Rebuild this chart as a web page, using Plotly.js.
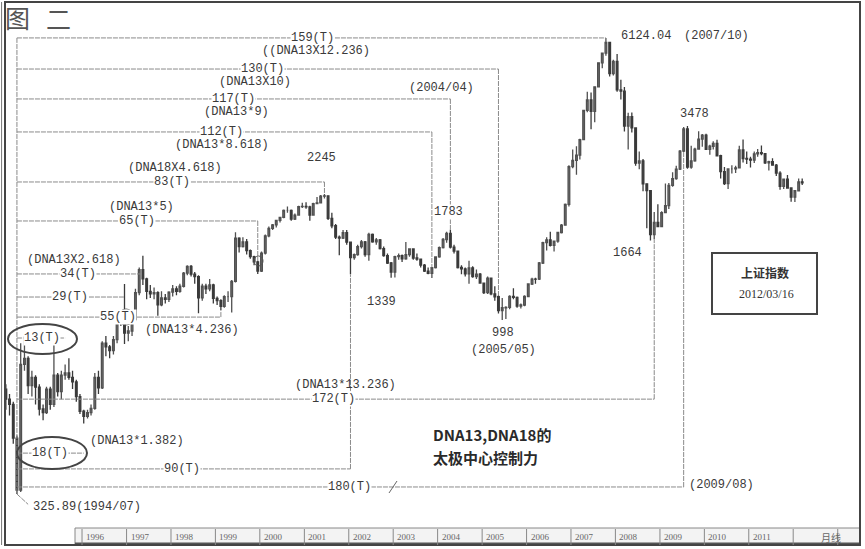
<!DOCTYPE html>
<html><head><meta charset="utf-8">
<script src="https://cdn.plot.ly/plotly-3.0.1.min.js"></script>
<style>html,body{margin:0;padding:0;background:#fff}#chart{width:865px;height:549px}</style>
</head><body><div id="chart"></div>
<script>
// ---- monthly bars of the Shanghai Composite ----
const months = [
 '1994-04','1994-05','1994-06','1994-07','1994-08','1994-09','1994-10','1994-11','1994-12',
 '1995-01','1995-02','1995-03','1995-04','1995-05','1995-06','1995-07','1995-08','1995-09','1995-10','1995-11','1995-12',
 '1996-01','1996-02','1996-03','1996-04','1996-05','1996-06','1996-07','1996-08','1996-09','1996-10','1996-11','1996-12',
 '1997-01','1997-02','1997-03','1997-04','1997-05','1997-06','1997-07','1997-08','1997-09','1997-10','1997-11','1997-12',
 '1998-01','1998-02','1998-03','1998-04','1998-05','1998-06','1998-07','1998-08','1998-09','1998-10','1998-11','1998-12',
 '1999-01','1999-02','1999-03','1999-04','1999-05','1999-06','1999-07','1999-08','1999-09','1999-10','1999-11','1999-12',
 '2000-01','2000-02','2000-03','2000-04','2000-05','2000-06','2000-07','2000-08','2000-09','2000-10','2000-11','2000-12',
 '2001-01','2001-02','2001-03','2001-04','2001-05','2001-06','2001-07','2001-08','2001-09','2001-10','2001-11','2001-12',
 '2002-01','2002-02','2002-03','2002-04','2002-05','2002-06','2002-07','2002-08','2002-09','2002-10','2002-11','2002-12',
 '2003-01','2003-02','2003-03','2003-04','2003-05','2003-06','2003-07','2003-08','2003-09','2003-10','2003-11','2003-12',
 '2004-01','2004-02','2004-03','2004-04','2004-05','2004-06','2004-07','2004-08','2004-09','2004-10','2004-11','2004-12',
 '2005-01','2005-02','2005-03','2005-04','2005-05','2005-06','2005-07','2005-08','2005-09','2005-10','2005-11','2005-12',
 '2006-01','2006-02','2006-03','2006-04','2006-05','2006-06','2006-07','2006-08','2006-09','2006-10','2006-11','2006-12',
 '2007-01','2007-02','2007-03','2007-04','2007-05','2007-06','2007-07','2007-08','2007-09','2007-10','2007-11','2007-12',
 '2008-01','2008-02','2008-03','2008-04','2008-05','2008-06','2008-07','2008-08','2008-09','2008-10','2008-11','2008-12',
 '2009-01','2009-02','2009-03','2009-04','2009-05','2009-06','2009-07','2009-08','2009-09','2009-10','2009-11','2009-12',
 '2010-01','2010-02','2010-03','2010-04','2010-05','2010-06','2010-07','2010-08','2010-09','2010-10','2010-11','2010-12',
 '2011-01','2011-02','2011-03','2011-04','2011-05','2011-06','2011-07','2011-08','2011-09','2011-10','2011-11','2011-12',
 '2012-01','2012-02','2012-03'
];
const open = [
 640,600,580,467,334,750,780,655,690,
 648,563,550,640,580,700,630,700,710,690,670,610,
 555,537,550,565,690,645,860,840,820,880,1000,1030,
 917,930,1000,1190,1380,1300,1200,1180,1190,1100,1150,1140,
 1194,1220,1200,1240,1350,1410,1340,1320,1150,1240,1220,1250,
 1147,1130,1090,1160,1160,1280,1690,1600,1650,1560,1500,1450,
 1367,1535,1715,1800,1840,1895,1930,2020,2020,1910,1960,2070,
 2073,2065,1960,2110,2120,2215,2218,1920,1830,1700,1690,1750,
 1646,1490,1520,1600,1650,1520,1730,1650,1670,1580,1510,1440,
 1358,1500,1510,1480,1520,1576,1487,1476,1421,1367,1348,1397,
 1497,1590,1675,1742,1595,1555,1399,1386,1342,1396,1320,1340,
 1266,1191,1306,1181,1159,1060,1080,1083,1162,1155,1092,1099,
 1161,1258,1299,1298,1440,1641,1672,1612,1658,1752,1837,2099,
 2675,2786,2881,3183,3841,4109,3820,4471,5218,5552,5954,4871,
 5262,4383,4348,3473,3693,3433,2736,2776,2397,2293,1729,1871,
 1821,1991,2082,2373,2477,2633,2959,3412,2667,2779,2996,3195,
 3277,2989,3051,3110,2870,2592,2398,2638,2638,2656,2979,2820,
 2808,2790,2905,2928,2911,2743,2762,2701,2567,2359,2468,2333,
 2199,2292,2428
];
const high = [
 660,620,590,475,860,900,790,720,700,
 660,580,650,650,926,710,720,750,780,720,680,620,
 560,560,580,710,720,870,900,850,900,1010,1060,1258,
 960,1030,1220,1400,1510,1310,1250,1230,1200,1200,1180,1200,
 1250,1240,1260,1360,1420,1422,1360,1330,1260,1260,1300,1260,
 1160,1140,1170,1200,1290,1756,1700,1700,1680,1570,1510,1460,
 1550,1730,1820,1850,1900,1940,2030,2070,2030,1980,2080,2120,
 2130,2080,2120,2200,2230,2245,2220,1990,1850,1720,1780,1780,
 1650,1530,1620,1670,1660,1748,1740,1690,1680,1600,1530,1450,
 1510,1530,1520,1649,1580,1580,1530,1480,1430,1400,1400,1500,
 1600,1690,1760,1783,1620,1560,1420,1400,1460,1410,1380,1350,
 1270,1320,1310,1240,1170,1150,1090,1170,1225,1160,1110,1170,
 1260,1310,1310,1450,1650,1700,1760,1660,1760,1850,2110,2700,
 2990,3050,3200,3850,4335,4312,4480,5220,5560,6124,5980,5320,
 5522,4680,4470,3786,3790,3440,2950,2810,2400,2300,2000,2100,
 2010,2403,2410,2580,2690,2980,3454,3478,3060,3020,3361,3300,
 3306,3080,3150,3180,2890,2670,2650,2700,2690,3060,3186,2950,
 2850,2950,3000,3067,2920,2780,2826,2720,2600,2480,2536,2340,
 2300,2480,2480
];
const low = [
 560,540,450,326,330,720,620,610,580,
 540,524,545,560,570,610,600,680,680,640,590,545,
 513,530,540,560,620,640,790,780,800,860,960,855,
 870,900,990,1170,1250,1140,1150,1140,1025,1090,1110,1120,
 1160,1170,1190,1230,1330,1320,1260,1043,1130,1180,1200,1110,
 1100,1064,1080,1120,1047,1270,1540,1590,1520,1480,1420,1342,
 1360,1520,1700,1780,1810,1870,1920,1990,1890,1900,1950,2050,
 2040,1890,1950,2100,2110,2180,1900,1800,1680,1514,1680,1620,
 1339,1470,1510,1580,1500,1460,1640,1620,1570,1500,1430,1310,
 1311,1470,1450,1470,1500,1470,1460,1400,1360,1340,1307,1390,
 1490,1580,1640,1580,1530,1390,1340,1320,1260,1310,1300,1260,
 1180,1180,1170,1130,1040,998,1005,1070,1140,1080,1074,1090,
 1160,1250,1260,1290,1430,1560,1600,1550,1640,1740,1830,2070,
 2650,2540,2800,3180,3800,3404,3560,4450,5040,5460,4780,4810,
 4330,4120,3357,2990,3333,2690,2630,2284,1802,1664,1678,1814,
 1814,1991,2037,2350,2460,2620,2940,2640,2639,2760,2990,3040,
 2980,2890,2990,2860,2480,2380,2319,2560,2570,2650,2750,2720,
 2661,2740,2850,2880,2720,2610,2690,2520,2307,2319,2330,2135,
 2132,2280,2380
];
const close = [
 600,580,467,334,750,780,655,690,648,
 563,550,640,580,700,630,700,710,690,670,610,555,
 537,550,565,690,645,860,840,820,880,1000,1030,917,
 930,1000,1190,1380,1300,1200,1180,1190,1100,1150,1140,1194,
 1220,1200,1240,1350,1410,1340,1320,1150,1240,1220,1250,1147,
 1130,1090,1160,1160,1280,1690,1600,1650,1560,1500,1450,1367,
 1535,1715,1800,1840,1895,1930,2020,2020,1910,1960,2070,2073,
 2065,1960,2110,2120,2215,2218,1920,1830,1700,1690,1750,1646,
 1490,1520,1600,1650,1520,1730,1650,1670,1580,1510,1440,1358,
 1500,1510,1480,1520,1576,1487,1476,1421,1367,1348,1397,1497,
 1590,1675,1742,1595,1555,1399,1386,1342,1396,1320,1340,1266,
 1191,1306,1181,1159,1060,1080,1083,1162,1155,1092,1099,1161,
 1258,1299,1298,1440,1641,1672,1612,1658,1752,1837,2099,2675,
 2786,2881,3183,3841,4109,3820,4471,5218,5552,5954,4871,5262,
 4383,4348,3473,3693,3433,2736,2776,2397,2293,1729,1871,1821,
 1991,2082,2373,2477,2633,2959,3412,2667,2779,2996,3195,3277,
 2989,3051,3110,2870,2592,2398,2638,2638,2656,2979,2820,2808,
 2790,2905,2928,2911,2743,2762,2701,2567,2359,2468,2333,2199,
 2292,2428,2410
];

// ---- time-count annotations (months counted from the 1994/07 low) ----
const originMonth = '1994-07';
const originLow = 325.89;
const guideCounts = [159, 130, 117, 112, 83, 65, 34, 29, 55, 90, 172, 180, 13, 18];
const guideLabels = ['159(T)','130(T)','117(T)','112(T)','83(T)','65(T)','34(T)','29(T)','55(T)','90(T)','172(T)','180(T)','13(T)','18(T)'];
const guideNotes  = ['((DNA13X12.236)','(DNA13X10)','(DNA13*9)','(DNA13*8.618)','(DNA18X4.618)','(DNA13*5)','(DNA13X2.618)','','(DNA13*4.236)','','(DNA13*13.236)','','','(DNA13*1.382)'];
const pointLabels = ['6124.04','(2007/10)','3478','2245','1783','1339','998','(2005/05)','1664','(2004/04)','(2009/08)','325.89(1994/07)'];
const yearTicks = [1996,1997,1998,1999,2000,2001,2002,2003,2004,2005,2006,2007,2008,2009,2010,2011];

// ---- layout of the annotations (pixel positions of the labels, price level of each line) ----
const guideLayout = [
 {level:6124, lx:312, nx:316, note:-1},
 {level:5014, lx:262, nx:255, note:-1},
 {level:4136, lx:233, nx:237, note:-1},
 {level:3345, lx:222, nx:222, note:-1},
 {level:2425, lx:172, nx:175, note:1},
 {level:1887, lx:137, nx:141, note:1},
 {level:1342, lx:78,  nx:74,  note:1},
 {level:1157, lx:70,  nx:0,   note:0},
 {level:1017, lx:118, nx:192, note:-1},
 {level:383,  lx:182, nx:0,   note:0},
 {level:600,  lx:333, nx:345, note:1},
 {level:341,  lx:349, nx:0,   note:0},
 {level:889,  lx:42,  nx:0,   note:0},
 {level:424,  lx:50,  nx:137, note:1}
];
const pointLayout = [
 [620,36,'left'],[683,36,'left'],[694,114,'center'],[321,158,'center'],[449,212,'center'],
 [381,302,'center'],[503,333,'center'],[503,350,'center'],[627,253,'center'],[442,88,'center'],
 [688,485,'left'],[32,507,'left']
];

const W = 865, H = 549, ML = 5, MR = 5, MT = 2, MB = 4;
const PW = W - ML - MR, PH = H - MT - MB;
const px = x => (x - ML) / PW;
const py = y => (H - MB - y) / PH;

function addMonths(ym, n) {
  const [y, m] = ym.split('-').map(Number);
  const t = y * 12 + (m - 1) + n;
  return Math.floor(t / 12) + '-' + String(t % 12 + 1).padStart(2, '0');
}
const day = ym => ym + '-15';
const xDates = months.map(day);

// guide line segments
const gx = [], gy = [];
const originX = day(originMonth);
guideCounts.forEach((n, i) => {
  const lv = guideLayout[i].level;
  const endM = addMonths(originMonth, n);
  gx.push(originX, day(endM), null); gy.push(lv, lv, null);
  const k = months.indexOf(endM);
  if (k >= 0 && i < 12) {
    let tgt = null;
    if (lv > high[k]) tgt = high[k]; else if (lv < low[k]) tgt = low[k];
    if (tgt !== null) { gx.push(day(endM), day(endM), null); gy.push(lv, tgt, null); }
  }
});
// the long vertical through the 1994/07 low
gx.push(originX, originX, null); gy.push(guideLayout[0].level, originLow, null);
gx.push(originX, day('1994-10'), null); gy.push(originLow, 305, null);

const traces = [
  {type:'scatter', mode:'lines', x:gx, y:gy, hoverinfo:'skip',
   line:{color:'#8a8a8a', width:1, dash:'5px,1px'}, showlegend:false},
  {type:'candlestick', x:xDates, open:open, high:high, low:low, close:close,
   increasing:{line:{color:'#505050', width:1.3}, fillcolor:'#7a7a7a'},
   decreasing:{line:{color:'#3a3a3a', width:1.3}, fillcolor:'#3a3a3a'},
   whiskerwidth:0, hoverinfo:'skip', showlegend:false}
];

const labFont = {family:'Liberation Mono, DejaVu Sans Mono, monospace', size:12, color:'#3a3a3a'};
const ann = [];
guideLabels.forEach((t, i) => {
  const g = guideLayout[i];
  ann.push({xref:'paper', yref:'y', x:px(g.lx), y:Math.log10(g.level), text:t, showarrow:false,
            font:labFont, bgcolor:'#ffffff', borderpad:0, xanchor:'center', yanchor:'middle'});
  if (guideNotes[i]) {
    ann.push({xref:'paper', yref:'y', x:px(g.nx), y:Math.log10(g.level), yshift: g.note > 0 ? 14 : -13,
              text:guideNotes[i], showarrow:false, font:labFont, xanchor:'center', yanchor:'middle'});
  }
});
// the (DNA13*1.382) note sits next to the 18(T) ring
ann[ann.length - 1].yshift = 12;
pointLabels.forEach((t, i) => {
  const p = pointLayout[i];
  ann.push({xref:'paper', yref:'paper', x:px(p[0]), y:py(p[1]), text:t, showarrow:false,
            font:labFont, bgcolor: (t === '1783') ? '#ffffff' : 'rgba(0,0,0,0)', borderpad:0,
            xanchor:p[2], yanchor:'middle'});
});
// title and texts
const cjk = 'Noto Sans CJK SC, sans-serif';
function txt(x, y, text, font, xanchor) {
  ann.push({xref:'paper', yref:'paper', x:px(x), y:py(y), text:text, showarrow:false, font:font,
            xanchor:xanchor || 'center', yanchor:'middle', align:'left'});
}
txt(17, 17, '图', {family:cjk, size:25, color:'#555'});
txt(58, 18, '二', {family:cjk, size:25, color:'#555'});
txt(431, 434, '<b>DNA13,DNA18的</b>', {family:cjk, size:15, color:'#2a2a2a'}, 'left');
txt(431, 457, '<b>太极中心控制力</b>', {family:cjk, size:15, color:'#2a2a2a'}, 'left');
txt(765, 273, '<b>上证指数</b>', {family:cjk, size:12, color:'#333'});
txt(766, 294, '2012/03/16', {family:'Liberation Serif, serif', size:12, color:'#333'});
txt(831, 537, '月线', {family:cjk, size:10, color:'#666'});
// year strip labels
yearTicks.forEach(yr => {
  ann.push({xref:'x', yref:'paper', x:yr + '-01-01', y:py(537), xanchor:'left', yanchor:'middle', xshift:2, text:String(yr),
            showarrow:false, font:{family:'Liberation Serif, serif', size:9, color:'#666'}});
});

const shapes = [
  {type:'rect', xref:'paper', yref:'paper', x0:px(75), x1:1, y0:0, y1:py(528), line:{color:'#888', width:1}, fillcolor:'#f3f3f3', layer:'below'},
  {type:'line', xref:'paper', yref:'paper', x0:px(75), x1:1, y0:0.002, y1:0.002, line:{color:'#555', width:3}},
  {type:'rect', xref:'paper', yref:'paper', x0:0, x1:1, y0:0, y1:1, line:{color:'#444', width:2}},
  {type:'line', xref:'paper', yref:'paper', x0:-0.004, x1:-0.004, y0:0, y1:1, line:{color:'#777', width:1}},
  // rings
  {type:'circle', xref:'paper', yref:'paper', x0:px(8), x1:px(77), y0:py(354), y1:py(324), line:{color:'#444', width:2}},
  {type:'circle', xref:'paper', yref:'paper', x0:px(17), x1:px(87), y0:py(469), y1:py(437), line:{color:'#444', width:2}},
  {type:'circle', xref:'paper', yref:'paper', x0:px(118), x1:px(134), y0:py(325), y1:py(309), line:{color:'#555', width:1}},
  {type:'circle', xref:'paper', yref:'paper', x0:px(254), x1:px(263), y0:py(266), y1:py(256), line:{color:'#555', width:1}},
  // small slash on the 180(T) line
  {type:'line', xref:'paper', yref:'paper', x0:px(389), x1:px(397), y0:py(493), y1:py(481), line:{color:'#666', width:1}},
  // 上证指数 box
  {type:'rect', xref:'paper', yref:'paper', x0:px(712), x1:px(817), y0:py(314), y1:py(253), line:{color:'#444', width:2}, fillcolor:'rgba(255,255,255,0)'}
];
yearTicks.concat([2012, 2013]).forEach(yr => {
  shapes.push({type:'line', xref:'x', yref:'paper', x0:yr + '-01-01', x1:yr + '-01-01', y0:0, y1:py(529), line:{color:'#888', width:1}});
});

const layout = {
  width:W, height:H, margin:{l:ML, r:MR, t:MT, b:MB},
  paper_bgcolor:'#fff', plot_bgcolor:'#fff', showlegend:false, hovermode:false,
  xaxis:{type:'date', range:['1994-04-08','2013-07-03'], showgrid:false, zeroline:false,
         showticklabels:false, ticks:'', showline:false, rangeslider:{visible:false}, fixedrange:true},
  yaxis:{type:'log', range:[2.3707, 3.8874], showgrid:false, zeroline:false,
         showticklabels:false, ticks:'', showline:false, fixedrange:true},
  annotations:ann, shapes:shapes
};
Plotly.newPlot('chart', traces, layout, {displayModeBar:false, staticPlot:true});
</script>
</body></html>
